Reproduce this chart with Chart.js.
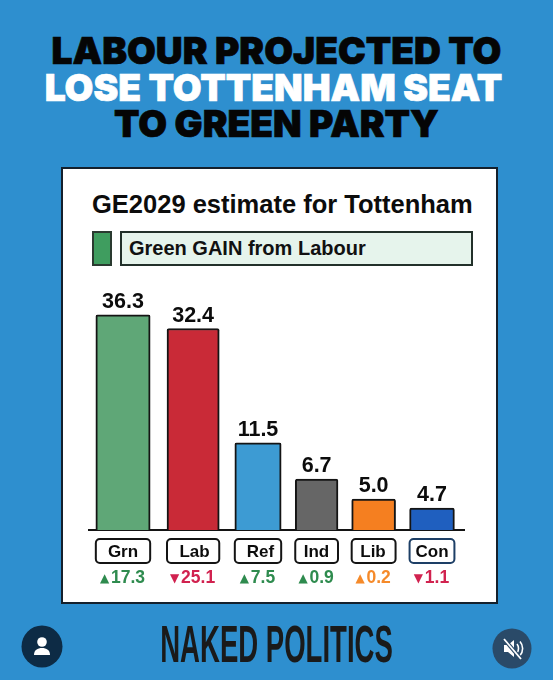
<!DOCTYPE html>
<html>
<head>
<meta charset="utf-8">
<script src="https://cdn.jsdelivr.net/npm/chart.js@4"></script>
<style>
html, body { margin: 0; padding: 0; width: 553px; height: 680px; overflow: hidden; background: #2e8fcf; }
body { position: relative; font-family: "Liberation Sans", Arial, sans-serif; }
.abs { position: absolute; white-space: nowrap; }
.head { left: 0; width: 553px; text-align: center; font: 900 37.2px/36px Inter, sans-serif; -webkit-text-stroke: 0.7px currentColor; color: #050505; }
#panel { left: 61px; top: 167px; width: 433px; height: 433px; background: #fff; border: 2px solid #14202c; }
#sub { left: 92px; top: 190px; font: 700 25.5px/28px "Liberation Sans", sans-serif; color: #0c0c0c; }
#swatch { left: 92px; top: 231px; width: 16px; height: 31px; background: #3f9d5f; border: 2px solid #2a3a30; }
#gain { left: 120px; top: 231px; width: 342px; height: 31px; padding-left: 7px; background: #e6f4ec; border: 2px solid #22302a; font: 700 20px/31px "Liberation Sans", sans-serif; color: #111; }
#brand { left: 0; top: 619px; width: 553px; text-align: center; font: 700 51px/51px "Liberation Sans", sans-serif; color: #1a1a1a; transform: scaleX(0.54); }
canvas { position: absolute; left: 0; top: 0; }
svg { position: absolute; }
</style>
</head>
<body>
<div class="abs head" style="top:33px">LABOUR PROJECTED TO</div>
<div class="abs head" style="top:70px;left:-3px;color:#fff">LOSE TOTTENHAM SEAT</div>
<div class="abs head" style="top:106px">TO GREEN PARTY</div>
<div class="abs" id="panel"></div>
<div class="abs" id="sub">GE2029 estimate for Tottenham</div>
<div class="abs" id="swatch"></div>
<div class="abs" id="gain">Green GAIN from Labour</div>
<canvas id="myChart" width="553" height="680"></canvas>
<div class="abs" id="brand">NAKED POLITICS</div>
<svg style="left:21px;top:625px" width="42" height="43" viewBox="0 0 42 43">
    <ellipse cx="21" cy="21.500" rx="20.500" ry="21" fill="#0d2b45"/>
    <circle cx="21" cy="17" r="4.800" fill="#fff"/>
    <path d="M13 30c0-5 3.500-7 8-7s8 2 8 7z" fill="#fff"/>
</svg>
<svg style="left:492px;top:628px" width="40" height="41" viewBox="0 0 40 41">
    <ellipse cx="20" cy="20.500" rx="19.500" ry="20" fill="#2a4a68"/>
    <path d="M12 17h4l6-5v17l-6-5h-4z" fill="#fff"/>
    <path d="M25 16c2 2.500 2 6.500 0 9M28 13.500c3.500 4 3.500 10 0 14" stroke="#fff" stroke-width="1.600" fill="none"/>
    <path d="M12 11l17 20" stroke="#2a4a68" stroke-width="4"/>
    <path d="M12 11l17 20" stroke="#fff" stroke-width="1.800"/>
</svg>
<script>
const parties = ['Grn', 'Lab', 'Ref', 'Ind', 'Lib', 'Con'];
// printed vote share labels
const shares = [36.3, 32.4, 11.5, 6.7, 5.0, 4.7];
// the source's bars are not to scale with their labels, these are the lengths as drawn
const barLengths = [36.3, 34.0, 14.7, 8.6, 5.2, 3.7];
const changes = [17.3, -25.1, 7.5, 0.9, 0.2, -1.1];

const barColors = ['#5fa777', '#c92a37', '#3d9bd3', '#666666', '#f57f20', '#1f5fbf'];
const changeColors = ['#2e8b4e', '#d1224f', '#2e8b4e', '#2e8b4e', '#f58a2a', '#d1224f'];
const slotCentres = [123, 194.5, 260.5, 316.5, 373, 432];

const partyLabels = {
    id: 'partyLabels',
    afterDatasetsDraw(chart) {
        const ctx = chart.ctx;
        const bars = chart.getDatasetMeta(0).data;
        const base = chart.chartArea.bottom;
        ctx.save();
        ctx.textAlign = 'center';
        bars.forEach((bar, i) => {
            // value above the bar
            ctx.fillStyle = '#0c0c0c';
            ctx.textBaseline = 'alphabetic';
            ctx.font = '700 21.5px "Liberation Sans", sans-serif';
            ctx.fillText(shares[i].toFixed(1), bar.x, bar.y - 7);

            // rounded box round the axis label
            const w = bar.width;
            ctx.beginPath();
            ctx.roundRect(bar.x - w / 2, base + 9, w, 24, 4);
            ctx.lineWidth = 2;
            ctx.strokeStyle = i === 5 ? '#1d3f66' : '#141414';
            ctx.stroke();

            // change since last election
            const up = changes[i] >= 0;
            const text = Math.abs(changes[i]).toFixed(1);
            ctx.font = '700 17.5px "Liberation Sans", sans-serif';
            const tw = ctx.measureText(text).width;
            ctx.fillStyle = changeColors[i];
            ctx.textAlign = 'left';
            ctx.fillText(text, bar.x - tw / 2 + 5, base + 53);
            ctx.font = '12px "DejaVu Sans"';
            ctx.fillText(up ? '▲' : '▼', bar.x - tw / 2 - 6, base + 52);
            ctx.textAlign = 'center';
        });
        ctx.restore();
    }
};

let ctx = document.getElementById('myChart').getContext('2d');
let myChart = new Chart(ctx, {
    type: 'bar',
    data: {
        labels: parties,
        datasets: [{
            data: barLengths,
            backgroundColor: barColors,
            borderColor: '#141414',
            borderWidth: 2,
            borderRadius: 2,
            borderSkipped: 'bottom',
            barThickness: 'flex',
            barPercentage: 0.76,
            categoryPercentage: 1
        }]
    },
    options: {
        responsive: false,
        animation: false,
        layout: { padding: { left: 89, right: 89, top: 290, bottom: 77 } },
        plugins: {
            legend: { display: false },
            title: { display: false },
            tooltip: { enabled: false }
        },
        scales: {
            x: {
                offset: true,
                // slots in the source are not evenly spaced
                afterBuildTicks: scale => {
                    scale.getPixelForValue = (value, index) => slotCentres[index !== undefined ? index : value];
                    scale.getPixelForTick = index => slotCentres[index];
                },
                afterFit: scale => { scale.height = 73; },
                grid: { display: false },
                border: { color: '#141414', width: 2 },
                ticks: {
                    color: '#0c0c0c',
                    padding: 4,
                    maxRotation: 0,
                    autoSkip: false,
                    font: { family: '"Liberation Sans", sans-serif', size: 17, weight: '700' }
                }
            },
            y: {
                display: false,
                min: 0,
                max: 40.5
            }
        }
    },
    plugins: [partyLabels]
});
</script>
</body>
</html>
